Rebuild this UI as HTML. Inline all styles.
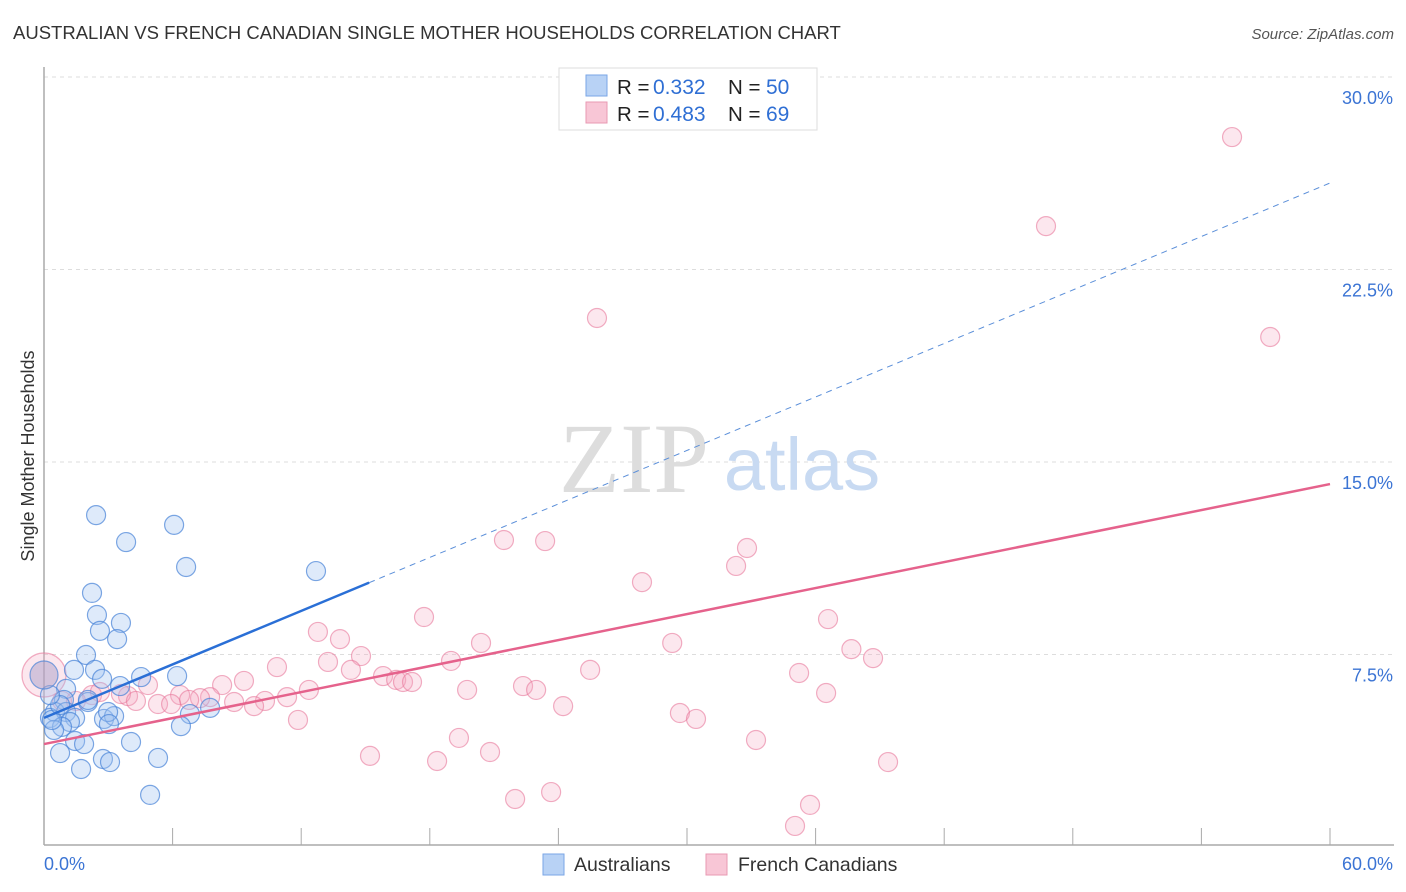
<!DOCTYPE html>
<html><head><meta charset="utf-8">
<style>
body{margin:0;background:#fff;font-family:"Liberation Sans",sans-serif;}
#wrap{position:relative;width:1406px;height:892px;overflow:hidden;}
</style></head>
<body>
<div id="wrap">
<svg id="chart" width="1406" height="892"></svg>
</div>
<script>
const blueX=[2.43,6.07,3.83,6.63,12.69,2.24,2.47,3.59,2.61,3.41,1.96,1.40,2.38,4.53,6.21,2.71,3.55,1.03,0.93,2.05,0.51,1.03,0.28,1.45,2.80,3.27,2.99,6.81,7.75,1.21,0.84,0.47,3.03,6.39,4.06,1.45,1.87,0.75,2.75,3.08,5.32,1.73,4.95,0.37,0.75,2.05,0.28,0.0];
const blueY=[12.93,12.55,11.88,10.91,10.75,9.90,9.04,8.73,8.42,8.10,7.48,6.90,6.90,6.62,6.66,6.55,6.27,6.16,5.73,5.65,5.26,5.26,5.03,5.03,4.99,5.10,5.26,5.18,5.42,4.87,4.68,4.56,4.79,4.71,4.09,4.13,4.01,3.66,3.43,3.31,3.47,3.04,2.03,4.95,5.53,5.73,5.92,6.7];
const pinkX=[55.43,46.75,25.80,57.21,21.46,23.38,32.80,32.29,27.90,17.73,36.58,12.78,13.81,20.39,29.31,37.67,14.79,13.25,18.99,38.68,10.87,14.32,25.48,35.23,15.82,16.43,16.75,17.17,9.33,8.31,4.85,22.35,22.96,19.74,12.36,36.49,6.35,2.24,3.92,3.59,7.75,7.28,6.77,11.34,10.31,8.87,5.32,5.93,4.29,9.80,24.22,0.84,1.49,29.67,30.42,11.85,19.36,33.22,20.81,15.21,18.34,39.38,21.98,23.66,35.74,35.04,2.61,0.0];
const pinkY=[27.66,24.19,20.61,19.87,11.96,11.92,11.65,10.95,10.32,8.96,8.88,8.38,8.10,7.95,7.95,7.71,7.44,7.21,7.25,7.36,7.01,6.90,6.90,6.78,6.66,6.51,6.43,6.43,6.47,6.31,6.31,6.27,6.12,6.12,6.12,6.00,5.92,5.92,5.88,5.96,5.84,5.80,5.73,5.84,5.69,5.65,5.57,5.57,5.69,5.49,5.49,5.69,5.69,5.22,4.99,4.95,4.25,4.17,3.70,3.55,3.35,3.31,1.87,2.14,1.64,0.82,6.04,6.7];
const blueLine=[5.03,25.87]; const blueSolidEnd=15.17;
const pinkLine=[4.01,14.14];
const yTicks=[7.5,15.0,22.5,30.0];
const xTickVals=[0,6,12,18,24,30,36,42,48,54,60];

const NS="http://www.w3.org/2000/svg";
const svg=document.getElementById('chart');
const X=v=>44+v/60*1286;
const Y=v=>847-v/7.5*192.5;
function mk(t,a,p){const e=document.createElementNS(NS,t);for(const k in a)e.setAttribute(k,a[k]);(p||svg).appendChild(e);return e;}

let t=mk('text',{x:13,y:39,'font-size':18.5,fill:'#333'});t.textContent='AUSTRALIAN VS FRENCH CANADIAN SINGLE MOTHER HOUSEHOLDS CORRELATION CHART';


t=mk('text',{x:1394,y:39,'font-size':15,fill:'#555','font-style':'italic','text-anchor':'end'});t.textContent='Source: ZipAtlas.com';



yTicks.forEach(v=>{
 let g=mk('line',{x1:44,x2:1394,y1:Y(v),y2:Y(v),stroke:'#ddd','stroke-dasharray':'4,4'});
 
 
 let l=mk('text',{x:1393,y:Y(v)+27,'font-size':18,fill:'#3b74d4','text-anchor':'end'});l.textContent=v.toFixed(1)+'%';
 
 
});
let ax=mk('line',{x1:44,x2:44,y1:67,y2:845,stroke:'#aaa','stroke-width':1.5});


ax=mk('line',{x1:44,x2:1394,y1:845,y2:845,stroke:'#aaa','stroke-width':1.5});


xTickVals.forEach(v=>{let k=mk('line',{x1:X(v),x2:X(v),y1:828,y2:845,stroke:'#aaa'});
 
 });
t=mk('text',{x:44,y:870,'font-size':18,fill:'#3b74d4'});t.textContent='0.0%';


t=mk('text',{x:1393,y:870,'font-size':18,fill:'#3b74d4','text-anchor':'end'});t.textContent='60.0%';


t=mk('text',{x:34,y:456,'font-size':18,fill:'#333','text-anchor':'middle',transform:'rotate(-90 34 456)'});t.textContent='Single Mother Households';



t=mk('text',{x:634,y:492,'font-size':100,fill:'#ddd','font-family':'Liberation Serif, serif','text-anchor':'middle'});t.textContent='ZIP';


t=mk('text',{x:802,y:490,'font-size':74,fill:'#c8daf2','text-anchor':'middle'});t.textContent='atlas';



pinkX.forEach((v,i)=>{const big=i===pinkX.length-1;
 let c=mk('circle',{cx:X(v),cy:Y(pinkY[i]),r:big?22:9.5,fill:'rgba(246,170,194,0.28)',stroke:'rgba(232,120,155,0.6)','stroke-width':1.2});
 
 });
blueX.forEach((v,i)=>{const big=i===blueX.length-1;
 let c=mk('circle',{cx:X(v),cy:Y(blueY[i]),r:big?14:9.5,fill:big?'rgba(170,160,200,0.5)':'rgba(160,195,240,0.35)',stroke:'rgba(70,130,215,0.7)','stroke-width':1.2});
 
 });

const by=x=>blueLine[0]+(blueLine[1]-blueLine[0])*x/60;
let ln=mk('line',{x1:X(0),y1:Y(by(0)),x2:X(blueSolidEnd),y2:Y(by(blueSolidEnd)),stroke:'#2a6fd6','stroke-width':2.5});


ln=mk('line',{x1:X(blueSolidEnd),y1:Y(by(blueSolidEnd)),x2:X(60),y2:Y(by(60)),stroke:'#5b8fd9','stroke-width':1,'stroke-dasharray':'6,5'});


ln=mk('line',{x1:X(0),y1:Y(pinkLine[0]),x2:X(60),y2:Y(pinkLine[1]),stroke:'#e5628c','stroke-width':2.5});



let lg=mk('g',{});


mk('rect',{x:559,y:68,width:258,height:62,fill:'#fff',stroke:'#ddd'},lg);
mk('rect',{x:586,y:75,width:21,height:21,fill:'#b8d2f5',stroke:'#7aa6e6'},lg);
mk('rect',{x:586,y:102,width:21,height:21,fill:'#f8c6d6',stroke:'#e899b3'},lg);
[[94,'0.332','50'],[121,'0.483','69']].forEach(r=>{
 let a=mk('text',{x:617,y:r[0],'font-size':20.5,fill:'#222'},lg);a.textContent='R = ';
 a=mk('text',{x:653,y:r[0],'font-size':21,fill:'#2f6fd4'},lg);a.textContent=r[1];
 a=mk('text',{x:728,y:r[0],'font-size':20.5,fill:'#222'},lg);a.textContent='N = ';
 a=mk('text',{x:766,y:r[0],'font-size':21,fill:'#2f6fd4'},lg);a.textContent=r[2];
});

let bl=mk('g',{});


mk('rect',{x:543,y:854,width:21,height:21,fill:'#b8d2f5',stroke:'#7aa6e6'},bl);
t=mk('text',{x:574,y:871,'font-size':19.5,fill:'#333'},bl);t.textContent='Australians';


mk('rect',{x:706,y:854,width:21,height:21,fill:'#f8c6d6',stroke:'#e899b3'},bl);
t=mk('text',{x:738,y:871,'font-size':19.5,fill:'#333'},bl);t.textContent='French Canadians';


</script>
</body></html>
